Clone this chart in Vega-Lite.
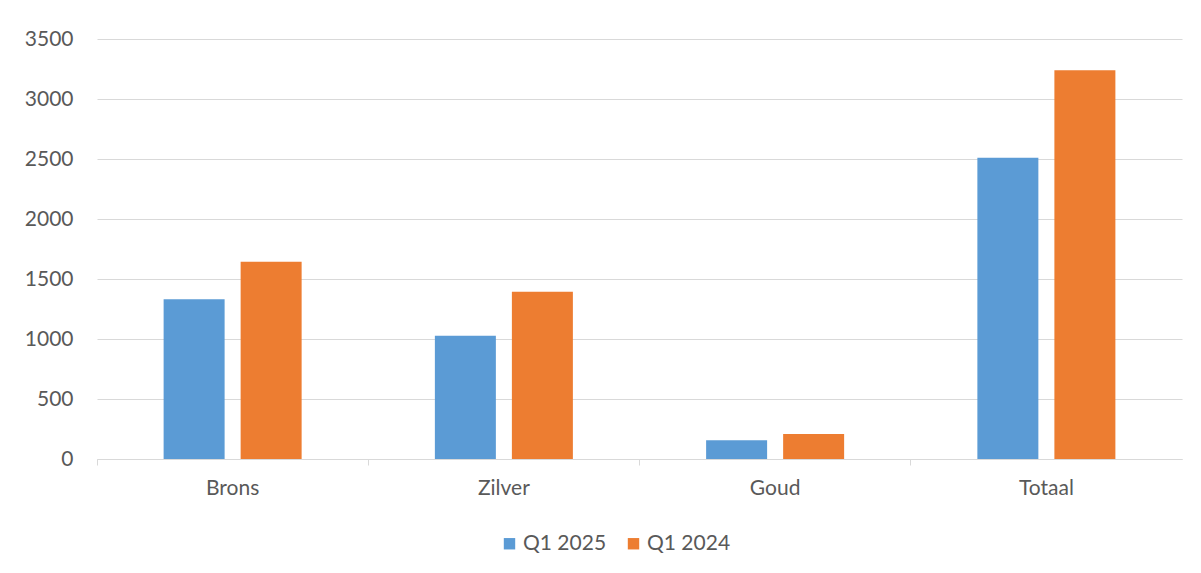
{
  "$schema": "https://vega.github.io/schema/vega-lite/v6.json",
  "width": 1085,
  "height": 420,
  "autosize": {"type": "none"},
  "padding": {"left": 97, "top": 39, "right": 19, "bottom": 114},
  "background": "white",
  "data": {
    "values": [
      {"categorie": "Brons", "periode": "Q1 2025", "waarde": 1331},
      {"categorie": "Brons", "periode": "Q1 2024", "waarde": 1644},
      {"categorie": "Zilver", "periode": "Q1 2025", "waarde": 1028},
      {"categorie": "Zilver", "periode": "Q1 2024", "waarde": 1394},
      {"categorie": "Goud", "periode": "Q1 2025", "waarde": 157},
      {"categorie": "Goud", "periode": "Q1 2024", "waarde": 208},
      {"categorie": "Totaal", "periode": "Q1 2025", "waarde": 2511},
      {"categorie": "Totaal", "periode": "Q1 2024", "waarde": 3239}
    ]
  },
  "mark": {"type": "bar"},
  "encoding": {
    "x": {
      "field": "categorie",
      "type": "nominal",
      "sort": ["Brons", "Zilver", "Goud", "Totaal"],
      "scale": {"paddingInner": 0, "paddingOuter": 0},
      "axis": {
        "title": null,
        "labelAngle": 0,
        "bandPosition": 0,
        "domainColor": "#D9D9D9",
        "tickColor": "#D9D9D9",
        "tickSize": 6,
        "labelFont": "Lato",
        "labelFontSize": 21,
        "labelColor": "#595959",
        "labelPadding": 12,
        "grid": false
      }
    },
    "xOffset": {
      "field": "periode",
      "type": "nominal",
      "sort": ["Q1 2025", "Q1 2024"],
      "scale": {"paddingInner": 0.208, "paddingOuter": 0.865}
    },
    "y": {
      "field": "waarde",
      "type": "quantitative",
      "scale": {"domain": [0, 3500], "nice": false},
      "axis": {
        "title": null,
        "format": "d",
        "values": [0, 500, 1000, 1500, 2000, 2500, 3000, 3500],
        "domain": false,
        "ticks": false,
        "gridColor": "#D9D9D9",
        "gridWidth": 1.2,
        "labelFont": "Lato",
        "labelFontSize": 21,
        "labelColor": "#595959",
        "labelPadding": 24
      }
    },
    "color": {
      "field": "periode",
      "type": "nominal",
      "sort": ["Q1 2025", "Q1 2024"],
      "scale": {"domain": ["Q1 2025", "Q1 2024"], "range": ["#5B9BD5", "#ED7D31"]},
      "legend": {
        "title": null,
        "orient": "none",
        "legendX": 402,
        "legendY": 494,
        "direction": "horizontal",
        "symbolType": "square",
        "symbolSize": 130,
        "symbolStrokeWidth": 0,
        "labelFont": "Lato",
        "labelFontSize": 21,
        "labelColor": "#595959",
        "columnPadding": 16,
        "labelOffset": 3
      }
    }
  },
  "config": {"view": {"stroke": null}}
}
